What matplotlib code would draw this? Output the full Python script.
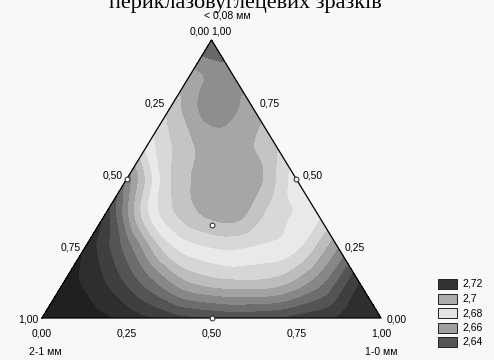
import numpy as np
import matplotlib.pyplot as plt
import matplotlib.tri as mtri
from matplotlib.patches import Rectangle

plt.rcParams['font.family'] = ['Liberation Sans', 'DejaVu Sans']

title = 'периклазовуглецевих зразків'
top_name = '< 0,08 мм'
left_name = '2-1 мм'
right_name = '1-0 мм'
tick_vals = [0.0, 0.25, 0.5, 0.75, 1.0]
tick_text = ['0,00', '0,25', '0,50', '0,75', '1,00']

# значения поверхности на сетке с шагом 1/8
# строки снизу вверх (доля "< 0,08 мм" = 0 ... 1), внутри строки доля "1-0 мм" растет
z_rows = [
    [14.5, 14.0, 13.1, 12.0, 11.4, 11.3, 11.8, 12.6, 13.4],
    [14.0, 12.5, 10.0, 7.5, 6.8, 7.0, 9.0, 12.5],
    [13.3, 10.0, 5.8, 4.5, 4.6, 5.3, 8.5],
    [12.0, 5.5, 2.8, 2.0, 4.0, 5.2],
    [9.0, 3.6, 2.0, 2.0, 5.0],
    [5.0, 2.6, 2.0, 3.3],
    [3.2, 1.0, 2.0],
    [1.8, 1.0],
    [-1.0],
]
shades = ['#686868', '#8e8e8e', '#a6a6a6', '#c4c4c4', '#d8d8d8', '#e9e9e9',
          '#d6d6d6', '#bdbdbd', '#a2a2a2', '#878787', '#6d6d6d', '#545454',
          '#3f3f3f', '#2e2e2e', '#202020']

# точки наблюдений (доли: верх, право)
obs_top = [0.5, 0.5, 0.0, 1/3]
obs_right = [0.0, 0.5, 0.5, 1/3]

legend_vals = ['2,72', '2,7', '2,68', '2,66', '2,64']
legend_cols = ['#333333', '#ababab', '#e4e4e4', '#a0a0a0', '#555555']

# сетка -> декартовы координаты треугольника
a_list, c_list, z_list = [], [], []
n = len(z_rows) - 1
for i, row in enumerate(z_rows):
    for j, v in enumerate(row):
        a_list.append(i / n)
        c_list.append(j / n)
        z_list.append(v)
a = np.array(a_list)
c = np.array(c_list)
z = np.array(z_list)
x = c + a / 2
y = a

fig = plt.figure(figsize=(4.94, 3.6), dpi=100, facecolor='#f8f8f8')
ax = fig.add_axes([42/494, 42/360, 339/494, 278/360])
ax.set_xlim(0, 1)
ax.set_ylim(0, 1)
ax.axis('off')

tri = mtri.Triangulation(x, y)
interp = mtri.CubicTriInterpolator(tri, z, kind='geom')
refiner = mtri.UniformTriRefiner(tri)
tri_f, z_f = refiner.refine_field(z, triinterpolator=interp, subdiv=3)
levels = [-10] + [k + 0.5 for k in range(14)] + [30]
ax.tricontourf(tri_f, z_f, levels=levels, colors=shades)

# рамка треугольника
ax.plot([0, 1, 0.5, 0], [0, 0, 1, 0], color='black', lw=0.9, clip_on=False)

# точки
ox = np.array(obs_right) + np.array(obs_top) / 2
oy = np.array(obs_top)
ax.plot(ox, oy, 'o', ms=3.5, mfc='white', mec='#222222', mew=0.7, clip_on=False)

fs = 7.5
# подписи по левой стороне (доля 2-1 мм)
for v, t in zip(tick_vals, tick_text):
    aa = 1 - v
    dx = -4 if v > 0 else -2
    ax.annotate(t, (aa / 2, aa), xytext=(dx, -2 + 11 * aa), textcoords='offset pixels',
                ha='right', va='center', fontsize=fs, annotation_clip=False)
# правая сторона (доля < 0,08 мм)
for v, t in zip(tick_vals, tick_text):
    dx = 6 if v < 1 else 0
    ax.annotate(t, (1 - v / 2, v), xytext=(dx, -2 + 11 * v), textcoords='offset pixels',
                ha='left', va='center', fontsize=fs, annotation_clip=False)
# нижняя сторона (доля 1-0 мм)
for v, t in zip(tick_vals, tick_text):
    ax.annotate(t, (v, 0), xytext=(0, -16), textcoords='offset pixels',
                ha='center', va='center', fontsize=fs, annotation_clip=False)

ax.annotate(top_name, (0.5, 1), xytext=(16, 24), textcoords='offset pixels',
            ha='center', va='center', fontsize=fs, annotation_clip=False)
ax.annotate(left_name, (0, 0), xytext=(3, -34), textcoords='offset pixels',
            ha='center', va='center', fontsize=fs, annotation_clip=False)
ax.annotate(right_name, (1, 0), xytext=(0, -34), textcoords='offset pixels',
            ha='center', va='center', fontsize=fs, annotation_clip=False)

# легенда
for k, (lab, col) in enumerate(zip(legend_vals, legend_cols)):
    yc = 1 - (284 + 14.5 * k) / 360
    fig.patches.append(Rectangle((438/494, yc - 5/360), 19/494, 10/360,
                                 transform=fig.transFigure, facecolor=col,
                                 edgecolor='#222222', lw=0.7))
    fig.text(462/494, yc, lab, ha='left', va='center', fontsize=fs)

fig.text(245/494, 1 - 8/360, title, ha='center', va='baseline',
         fontsize=16, family='Liberation Serif')

fig.savefig('out.png', dpi=100, facecolor=fig.get_facecolor())
